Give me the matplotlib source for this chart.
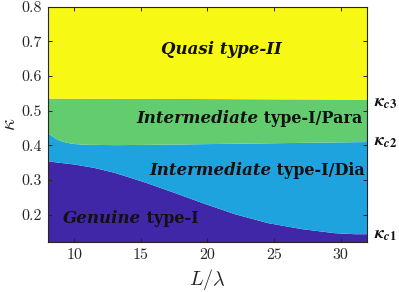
import numpy as np
import matplotlib
matplotlib.use("Agg")
import matplotlib.pyplot as plt

plt.rcParams['mathtext.fontset'] = 'cm'
plt.rcParams['font.family'] = 'serif'
plt.rcParams['font.serif'] = ['cmr10']
plt.rcParams['axes.formatter.use_mathtext'] = True

# boundaries
x_c1 = [8, 10, 11.5, 13, 15.3, 17.5, 19.8, 22, 24.5, 27, 29.5, 31, 32]
k_c1 = [0.355, 0.346, 0.336, 0.322, 0.294, 0.264, 0.232, 0.203, 0.177, 0.160, 0.148, 0.145, 0.145]
x_c2 = [8, 8.3, 8.6, 9, 9.5, 10, 11, 13, 16, 20, 24, 28, 32]
k_c2 = [0.435, 0.428, 0.420, 0.413, 0.408, 0.405, 0.403, 0.402, 0.403, 0.405, 0.407, 0.409, 0.411]
x_c3 = [8, 20, 32]
k_c3 = [0.536, 0.535, 0.533]

region_labels = ["Quasi type-II", "Intermediate", "type-I/Para", "type-I/Dia", "Genuine", "type-I"]
colors = ['#F8F815', '#63CC6F', '#1FA3DF', '#3F27A8']

xlim = (8, 32)
ylim = (0.12, 0.8)

fig = plt.figure(figsize=(3.99, 2.92), dpi=100)
ax = fig.add_axes([0.1195, 0.170, 0.8011, 0.807])

xx = np.array(x_c1 + x_c2 + x_c3, dtype=float)
xx = np.unique(xx)
b1 = np.interp(xx, x_c1, k_c1)
b2 = np.interp(xx, x_c2, k_c2)
b3 = np.interp(xx, x_c3, k_c3)

ax.fill_between(xx, ylim[0], b1, color=colors[3], lw=0)
ax.fill_between(xx, b1, b2, color=colors[2], lw=0)
ax.fill_between(xx, b2, b3, color=colors[1], lw=0)
ax.fill_between(xx, b3, ylim[1], color=colors[0], lw=0)

ax.set_xlim(*xlim)
ax.set_ylim(*ylim)
ax.set_xticks([10, 15, 20, 25, 30])
ax.set_yticks([0.2, 0.3, 0.4, 0.5, 0.6, 0.7, 0.8])
ax.set_xticklabels(['10', '15', '20', '25', '30'])
ax.set_yticklabels(['0.2', '0.3', '0.4', '0.5', '0.6', '0.7', '0.8'])
ax.tick_params(direction='in', top=True, right=True, length=3, width=0.7,
               labelsize=11.5, colors='#262626', pad=4)
for s in ax.spines.values():
    s.set_color('#262626')
    s.set_linewidth(0.8)
    s.set_zorder(5)

ax.set_xlabel(r'$L/\lambda$', fontsize=14.5, color='#262626', labelpad=4)
ax.set_ylabel(r'$\kappa$', fontsize=15, color='#262626', labelpad=2)

bi = dict(family='DejaVu Serif', style='italic', weight='bold', fontsize=12, color='#111111')
bu = dict(family='DejaVu Serif', weight='bold', fontsize=11.5, color='#111111')

def to_data(px, py):
    return ax.transData.inverted().transform(fig.transFigure.transform((px / 399, 1 - py / 292)))

# Quasi type-II
p = to_data(221, 49)
ax.text(p[0], p[1], region_labels[0], ha='center', va='center', **bi)

def two_part(x0px, ypx, first, second):
    p = to_data(x0px, ypx)
    t1 = ax.text(p[0], p[1], first, ha='left', va='baseline', **bi)
    ax.annotate(' ' + second, xy=(1, 0), xycoords=t1, ha='left', va='bottom',
                annotation_clip=False, **bu)

two_part(136, 123, region_labels[1], region_labels[2])
two_part(149, 175, region_labels[1], region_labels[3])
two_part(63, 223, region_labels[4], region_labels[5])

for lab, ypx in [(r'$\mathbfit{\kappa}_{\mathbfit{c}\mathbf{3}}$', 103),
                 (r'$\mathbfit{\kappa}_{\mathbfit{c}\mathbf{2}}$', 142),
                 (r'$\mathbfit{\kappa}_{\mathbfit{c}\mathbf{1}}$', 235)]:
    fig.text(374 / 399, 1 - ypx / 292, lab, ha='left', va='center', fontsize=13,
             color='#111111', math_fontfamily='stix')

fig.savefig('out.png', dpi=100)
